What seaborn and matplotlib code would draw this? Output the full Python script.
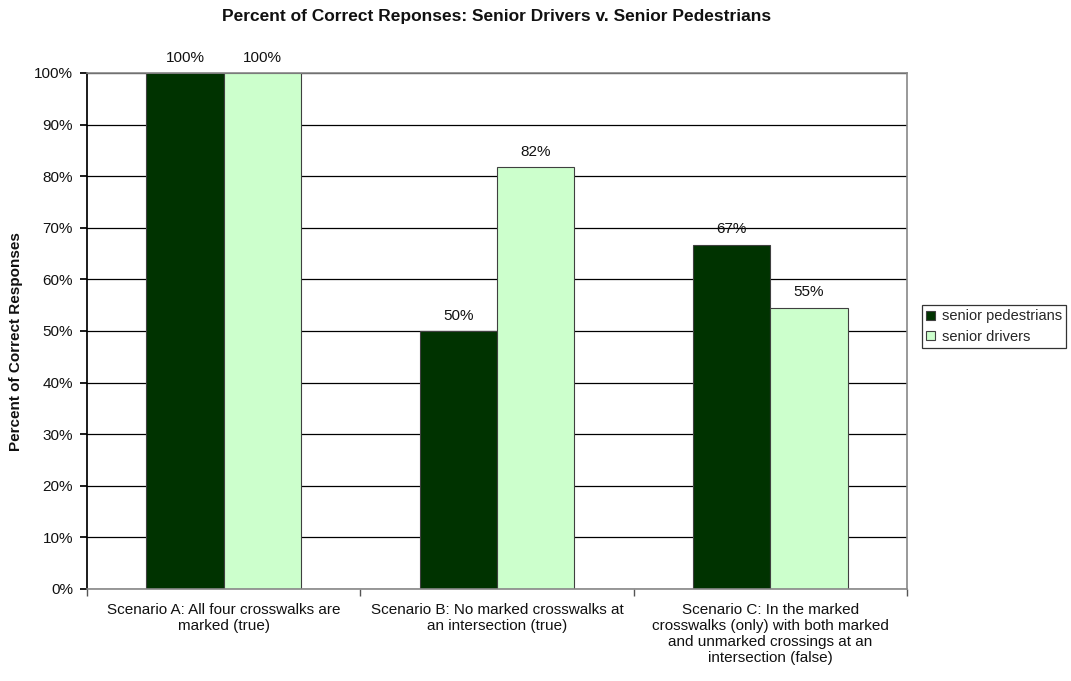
"""Percent of correct responses: senior drivers vs senior pedestrians."""

import matplotlib

matplotlib.use("Agg")
import matplotlib.pyplot as plt
import pandas as pd
import seaborn as sns

scenarios = [
    "Scenario A: All four crosswalks are\nmarked (true)",
    "Scenario B: No marked crosswalks at\nan intersection (true)",
    "Scenario C: In the marked\ncrosswalks (only) with both marked\nand unmarked crossings at an\nintersection (false)",
]
groups = ["senior pedestrians", "senior drivers"]
pedestrians = [1.00, 0.50, 0.667]
drivers = [1.00, 0.818, 0.545]
y_ticks = [i / 10 for i in range(11)]
y_tick_labels = [f"{i * 10}%" for i in range(11)]

frame = pd.DataFrame(
    {
        "scenario": scenarios * 2,
        "group": [groups[0]] * 3 + [groups[1]] * 3,
        "value": pedestrians + drivers,
    }
)

sns.set_theme(style="white")
plt.rcParams["font.family"] = ["Liberation Sans", "DejaVu Sans"]

W, H = 1071, 681
fig, ax = plt.subplots(figsize=(W / 100, H / 100), dpi=100)
# plot area taken from the reference pixels: x 87..907, y 73..589
fig.subplots_adjust(left=87 / W, right=907 / W, top=1 - 73 / H, bottom=1 - 589 / H)

sns.barplot(
    data=frame,
    x="scenario",
    y="value",
    hue="group",
    palette=["#003300", "#CCFFCC"],
    saturation=1,
    width=0.565,
    edgecolor="#404040",
    linewidth=0.8,
    ax=ax,
)

for container in ax.containers:
    ax.bar_label(
        container,
        labels=[f"{v * 100:.0f}%" for v in container.datavalues],
        padding=6,
        fontsize=11,
        color="#111111",
    )

ax.set_ylim(0, 1.0)
ax.set_xlim(-0.5, 2.5)
ax.set_yticks(y_ticks)
ax.set_yticklabels(y_tick_labels, fontsize=11, color="#111111")
ax.tick_params(axis="y", length=5, left=True, color="black", pad=5)
ax.tick_params(axis="x", which="major", bottom=False, labelsize=11, pad=4,
               labelcolor="#111111")
ax.set_xticks([-0.5, 0.5, 1.5, 2.5], minor=True)
ax.tick_params(axis="x", which="minor", bottom=True, length=5, color="#555555")
ax.yaxis.grid(True, color="black", linewidth=0.9)
ax.set_axisbelow(True)

ax.set_xlabel("")
ax.set_ylabel("")
fig.text(16 / W, 1 - 342 / H, "Percent of Correct Responses", rotation=90,
         ha="center", va="center", fontsize=11, fontweight="bold", color="#111111")
fig.text(497 / W, 1 - 16 / H,
         "Percent of Correct Reponses: Senior Drivers v. Senior Pedestrians",
         ha="center", va="center", fontsize=12.5, fontweight="bold", color="#111111")

for side in ["top", "right", "bottom"]:
    ax.spines[side].set_color("#888888")
    ax.spines[side].set_linewidth(1.2)
ax.spines["left"].set_color("black")

ax.legend(
    loc="upper left",
    bbox_to_anchor=(922 / W, 1 - 305 / H),
    bbox_transform=fig.transFigure,
    frameon=True,
    fancybox=False,
    edgecolor="black",
    fontsize=10.5,
    handlelength=0.6,
    handleheight=0.6,
    handletextpad=0.45,
    borderpad=0.3,
    labelspacing=0.45,
    borderaxespad=0,
    title=None,
)
ax.get_legend().get_frame().set_linewidth(0.9)

fig.savefig("out.png", dpi=100)
plt.close(fig)
